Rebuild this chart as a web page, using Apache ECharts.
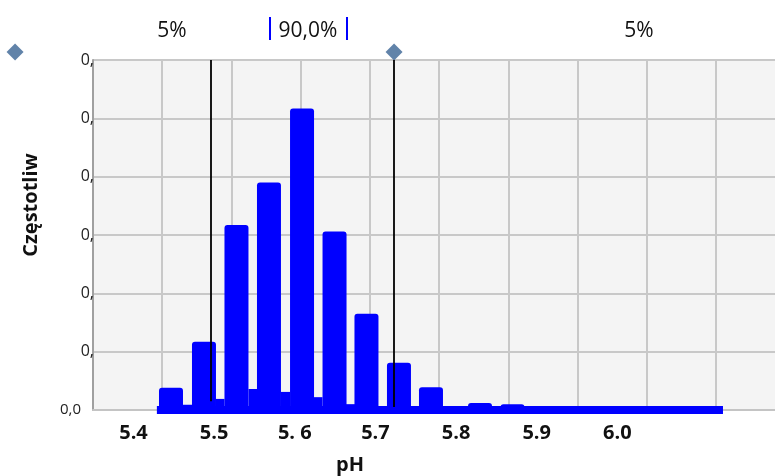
<!DOCTYPE html>
<html><head><meta charset="utf-8">
<script src="https://cdn.jsdelivr.net/npm/echarts@6/dist/echarts.min.js"></script>
<style>html,body{margin:0;padding:0;background:#fff}#c{width:775px;height:476px}</style>
</head><body><div id="c"></div>
<script>
// ---- data ----
const xTickValues = [5.4, 5.5, 5.6, 5.7, 5.8, 5.9, 6.0];
const xTickLabels = ['5.4', '5.5', '5. 6', '5.7', '5.8', '5.9', '6.0'];
const yTickValues = [0, 0.1, 0.2, 0.3, 0.4, 0.5, 0.6];
const yTickLabels = ['0,0', '0,', '0,', '0,', '0,', '0,', '0,'];
const mainBinCenters = [5.4465, 5.4874, 5.5277, 5.5680, 5.6090, 5.6493, 5.6889, 5.7292, 5.7689, 5.8297, 5.8700];
const mainBinFreq    = [0.038, 0.117, 0.317, 0.390, 0.517, 0.306, 0.165, 0.081, 0.039, 0.012, 0.010];
const gapBinCenters  = [5.4670, 5.5073, 5.5482, 5.5885, 5.6288, 5.6691];
const gapBinFreq     = [0.009, 0.019, 0.036, 0.031, 0.022, 0.010];
const histRange = [5.429, 6.131];
const lowerLimit = 5.4961;
const upperLimit = 5.7231;
const limitLineEnds = [0.015, 0.005];
const handleX = [5.2531, 5.7231];
const handleY = 0.6137;
const intervalLabels = ['5%', '90,0%', '5%'];

const FONT = '"Open Sans", "Noto Sans", sans-serif';
const BLUE = '#0000ff';
const X_MIN = 5.34978, X_MAX = 6.20791;

function findLabel(values, labels, v) {
  for (let i = 0; i < values.length; i++) if (Math.abs(values[i] - v) < 1e-6) return labels[i];
  return '';
}

const chart = echarts.init(document.getElementById('c'), null, {renderer: 'canvas'});
chart.setOption({
  animation: false,
  textStyle: {fontFamily: FONT},
  grid: {left: 93, top: 60, width: 692, height: 350, show: true, backgroundColor: '#f4f4f4', borderWidth: 0,
         containLabel: false, outerBoundsMode: 'none'},
  xAxis: [
    {
      type: 'value', min: X_MIN, max: X_MAX, position: 'bottom',
      axisLine: {show: true, lineStyle: {color: '#c4c4c4', width: 2}},
      axisTick: {show: false},
      splitLine: {show: false},
      axisLabel: {
        customValues: xTickValues,
        formatter: v => findLabel(xTickValues, xTickLabels, v),
        fontSize: 20, fontWeight: 'bold', color: '#111', margin: 13, fontFamily: FONT
      },
      name: 'pH', nameLocation: 'middle', nameGap: 45,
      nameTextStyle: {fontSize: 20, fontWeight: 'bold', color: '#111', padding: [0, 178, 0, 0], fontFamily: FONT}
    },
    {
      type: 'value', min: 0, max: 9.993, interval: 1, position: 'bottom',
      axisLine: {show: false}, axisTick: {show: false}, axisLabel: {show: false},
      splitLine: {show: true, lineStyle: {color: '#c8c8c8', width: 2}}
    },
    {type: 'value', min: X_MIN, max: X_MAX, show: false}
  ],
  yAxis: {
    type: 'value', min: 0, max: 0.6, interval: 0.1,
    axisLine: {show: true, lineStyle: {color: '#a0a0a0', width: 2}},
    axisTick: {show: false},
    splitLine: {show: true, lineStyle: {color: '#c8c8c8', width: 2}},
    axisLabel: {
      margin: -1, fontSize: 16, color: '#222', fontFamily: FONT,
      formatter: v => {
        const t = findLabel(yTickValues, yTickLabels, v);
        return v === 0 ? '{z|' + t + '}' : '{c|' + t + '}';
      },
      rich: {z: {padding: [0, 13, 0, 0], fontSize: 15}, c: {fontSize: 16}}
    },
    name: 'Częstotliw', nameLocation: 'middle', nameGap: 52,
    nameTextStyle: {fontSize: 20, fontWeight: 'bold', color: '#111', padding: [0, 0, 0, 60], fontFamily: FONT}
  },
  series: [
    {
      type: 'line', xAxisIndex: 0, clip: false, symbol: 'none', silent: true,
      data: [[histRange[0], 0], [histRange[1], 0]],
      lineStyle: {color: BLUE, width: 8, cap: 'butt'}
    },
    {
      type: 'bar', xAxisIndex: 0, barWidth: 24, silent: true,
      data: mainBinCenters.map((x, i) => [x, mainBinFreq[i]]),
      itemStyle: {color: BLUE, borderRadius: [3, 3, 0, 0]}
    },
    {
      type: 'bar', xAxisIndex: 2, barWidth: 9, silent: true,
      data: gapBinCenters.map((x, i) => [x, gapBinFreq[i]]),
      itemStyle: {color: BLUE}
    },
    {
      type: 'scatter', xAxisIndex: 0, clip: false, silent: true,
      symbol: 'diamond', symbolSize: [17, 17],
      itemStyle: {color: '#3a6494'},
      data: handleX.map(x => [x, handleY]),
      markLine: {
        silent: true, symbol: 'none', label: {show: false},
        lineStyle: {color: '#000', width: 1.8, type: 'solid'},
        data: [
          [{coord: [lowerLimit, 0.6]}, {coord: [lowerLimit, limitLineEnds[0]]}],
          [{coord: [upperLimit, 0.6]}, {coord: [upperLimit, limitLineEnds[1]]}]
        ]
      }
    }
  ],
  graphic: [
    {type: 'text', x: 172, y: 31, style: {text: intervalLabels[0], font: '21px ' + FONT, fill: '#111', textAlign: 'center', textVerticalAlign: 'middle'}},
    {type: 'text', x: 308, y: 31, style: {text: intervalLabels[1], font: '21px ' + FONT, fill: '#111', textAlign: 'center', textVerticalAlign: 'middle'}},
    {type: 'text', x: 639, y: 31, style: {text: intervalLabels[2], font: '21px ' + FONT, fill: '#111', textAlign: 'center', textVerticalAlign: 'middle'}},
    {type: 'line', shape: {x1: 270, y1: 17, x2: 270, y2: 40}, style: {stroke: BLUE, lineWidth: 2}},
    {type: 'line', shape: {x1: 347, y1: 17, x2: 347, y2: 40}, style: {stroke: BLUE, lineWidth: 2}}
  ]
});
</script>
</body></html>
